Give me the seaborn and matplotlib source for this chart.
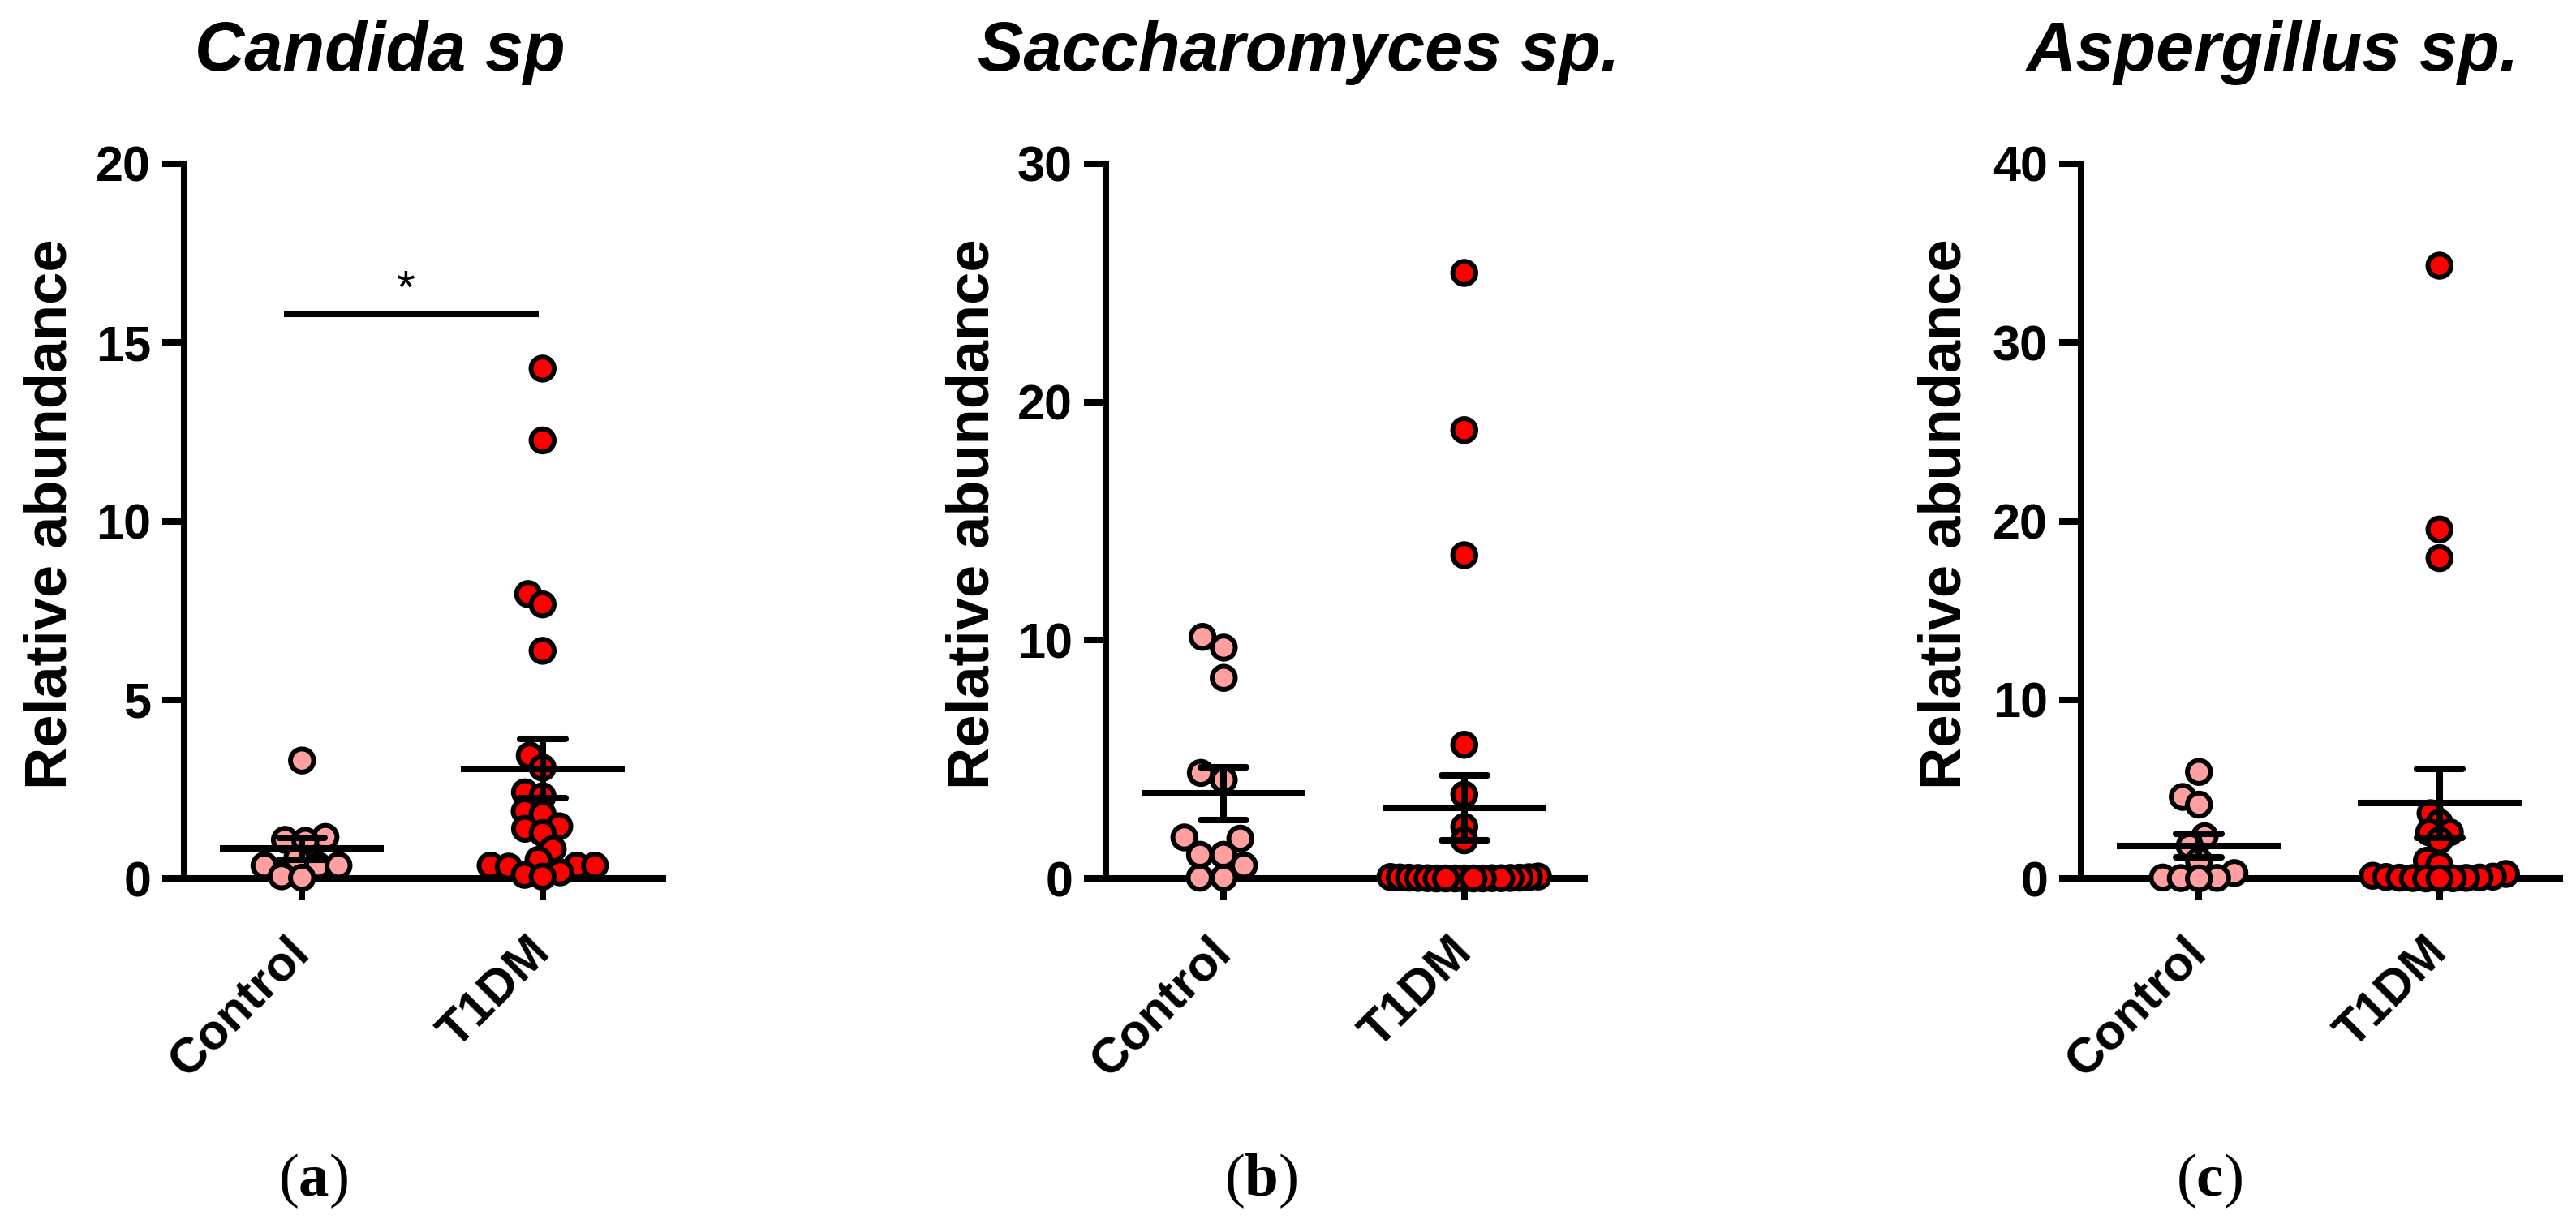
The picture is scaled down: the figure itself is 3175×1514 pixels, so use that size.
import numpy as np
import pandas as pd
import matplotlib
matplotlib.use('Agg')
import matplotlib.pyplot as plt
import seaborn as sns

# groups and panel labels
groups = ['Control', 'T1DM']
titles = ['Candida sp', 'Saccharomyces sp.', 'Aspergillus sp.']
tags = ['a', 'b', 'c']
y_max = [20, 30, 40]
y_step = [5, 10, 10]

# relative abundance
candida_control = [3.30, 1.16, 1.08, 1.05, 0.55, 0.36, 0.36, 0.36, 0.06, 0.02]
candida_t1dm = [14.27, 12.26, 7.96, 7.67, 6.37, 3.44, 3.10, 2.41, 2.30, 1.88, 1.80, 1.46,
                1.39, 1.27, 0.82, 0.52, 0.36, 0.36, 0.36, 0.33, 0.17, 0.10, 0.05]

sacch_control = [10.14, 9.69, 8.42, 4.43, 4.14, 1.72, 1.67, 0.99, 0.99, 0.54, 0.03, 0.03]
sacch_t1dm = [25.42, 18.82, 13.57, 5.61, 3.52, 2.17, 1.60, 0.08, 0.06, 0.05, 0.04, 0.03,
              0.03, 0.02, 0.02, 0.01, 0.01, 0.01, 0.0, 0.0, 0.0, 0.0, 0.0, 0.0]

asperg_control = [5.96, 4.56, 4.13, 2.36, 1.82, 0.99, 0.30, 0.05, 0.03, 0.02, 0.0]
asperg_t1dm = [34.30, 19.53, 17.93, 3.65, 3.12, 2.58, 2.58, 2.13, 0.99, 0.76, 0.25, 0.15,
               0.10, 0.08, 0.05, 0.04, 0.03, 0.02, 0.01, 0.0, 0.0]

# significance bar in panel a
sig_x = [-0.074, 0.985]
sig_y = 15.8

panel_data = [(candida_control, candida_t1dm),
              (sacch_control, sacch_t1dm),
              (asperg_control, asperg_t1dm)]

colors = {'Control': '#ffa0a0', 'T1DM': '#ff0000'}

sns.set_theme(style='ticks')
plt.rcParams['font.family'] = ['Liberation Sans', 'DejaVu Sans']
plt.rcParams['font.weight'] = 'bold'
for key in ['text.color', 'axes.labelcolor', 'xtick.color', 'ytick.color', 'axes.edgecolor']:
    plt.rcParams[key] = 'black'
plt.rcParams['mathtext.fontset'] = 'custom'
plt.rcParams['mathtext.bf'] = 'Liberation Serif:bold'
plt.rcParams['mathtext.rm'] = 'Liberation Serif'

W, H = 3175, 1514
fig = plt.figure(figsize=(W / 100, H / 100), dpi=100)

ax_left = [227, 1363, 2565]
title_x = [468, 1601, 2801]
tag_x = [386, 1554, 2723]
ylab_x = [-0.222, -0.219, -0.227]
# marker size used only to spread the swarm (control, T1DM) per panel
layout_size = [[13, 11], [16, 3.5], [11, 7]]
lw = 5.8
dot_size = 20.5
dot_edge = 4.3

axes = []
for i in range(3):
    ax = fig.add_axes([ax_left[i] / W, 1 - 1083 / H, 590 / W, 881 / H])
    axes.append(ax)
    ctrl, t1 = panel_data[i]
    df = pd.DataFrame({'group': ['Control'] * len(ctrl) + ['T1DM'] * len(t1),
                       'value': ctrl + t1})

    sns.swarmplot(data=df, x='group', y='value', hue='group', order=groups,
                  palette=colors, size=dot_size, linewidth=dot_edge,
                  edgecolor='black', legend=False, ax=ax, clip_on=False, zorder=3)
    sns.pointplot(data=df, x='group', y='value', order=groups, errorbar='se',
                  color='black', marker='_', markersize=145, markeredgewidth=lw,
                  linestyle='none', capsize=0.19, err_kws={'linewidth': lw},
                  ax=ax, zorder=4)

    ax.set_xlim(-0.49, 1.5)
    ax.set_ylim(0, y_max[i])
    ax.set_yticks(np.arange(0, y_max[i] + 1, y_step[i]))
    ax.set_xticks([0, 1])
    ax.set_xticklabels(groups, rotation=45, ha='right', va='center',
                       rotation_mode='anchor', fontsize=44, fontweight='bold')
    ax.tick_params(axis='both', width=lw, length=19.5, direction='out', color='black')
    ax.tick_params(axis='y', labelsize=44, pad=10)
    ax.tick_params(axis='x', pad=40)
    for lbl in ax.get_yticklabels():
        lbl.set_fontweight('bold')
    sns.despine(ax=ax)
    for side in ['left', 'bottom']:
        ax.spines[side].set_linewidth(lw)
        ax.spines[side].set_color('black')
    ax.set_xlabel('')
    ax.set_ylabel('Relative abundance', fontsize=52, fontweight='bold')
    ax.yaxis.set_label_coords(ylab_x[i], 0.51)

    fig.text(title_x[i] / W, 1 - 87 / H, titles[i], ha='center', va='baseline',
             fontsize=61, fontweight='bold', style='italic')
    fig.text(tag_x[i] / W, 1 - 1456 / H, '($\\mathbf{%s}$)' % tags[i],
             ha='center', va='center', fontsize=54, fontweight='normal',
             family='Liberation Serif')

axes[0].plot(sig_x, [sig_y, sig_y], color='black', lw=lw, solid_capstyle='butt',
             clip_on=False)
axes[0].text(0.43, sig_y + 0.3, '*', ha='center', va='baseline', fontsize=42,
             fontweight='normal')

# spread the swarms with smaller markers, freeze them, then draw the real markers
for i, ax in enumerate(axes):
    for coll in ax.collections:
        offs = np.asarray(coll.get_offsets())
        if len(offs) == 0:
            continue
        k = int(round(offs[:, 0].mean()))
        coll.set_sizes([layout_size[i][k] ** 2])
fig.canvas.draw()
for ax in axes:
    for coll in ax.collections:
        if 'draw' in coll.__dict__:
            del coll.draw
        coll.set_sizes([dot_size ** 2])

fig.savefig('out.png', dpi=100, facecolor='white')
